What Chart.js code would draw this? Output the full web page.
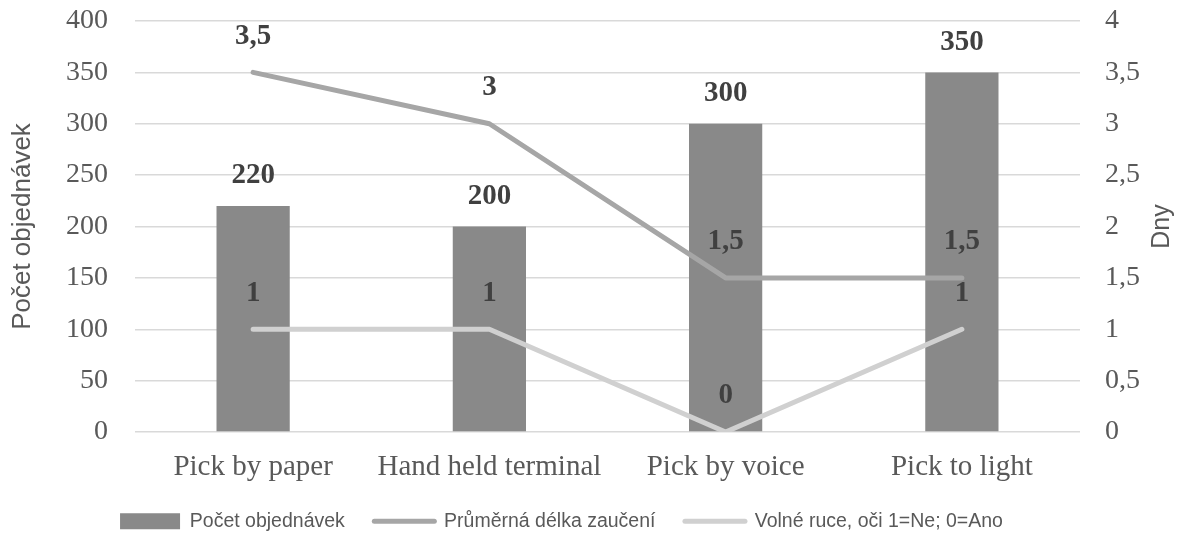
<!DOCTYPE html>
<html>
<head>
<meta charset="utf-8">
<script src="https://cdn.jsdelivr.net/npm/chart.js@4/dist/chart.umd.min.js"></script>
<style>
  html, body { margin: 0; padding: 0; background: #ffffff; }
  #wrap { width: 1189px; height: 541px; }
</style>
</head>
<body>
<div id="wrap"><canvas id="c" width="1189" height="541"></canvas></div>
<script>
// Picking methods compared
const categories = ['Pick by paper', 'Hand held terminal', 'Pick by voice', 'Pick to light'];
// Number of orders (left axis)
const orderCounts = [220, 200, 300, 350];
// Average training length in days (right axis)
const trainingDays = [3.5, 3, 1.5, 1.5];
// Hands/eyes free flag: 1 = No, 0 = Yes (right axis)
const handsFree = [1, 1, 0, 1];

const seriesNames = ['Počet objednávek', 'Průměrná délka zaučení', 'Volné ruce, oči 1=Ne; 0=Ano'];
const leftTitle = 'Počet objednávek';
const rightTitle = 'Dny';

const SERIF = "'Liberation Serif', 'Times New Roman', serif";
const SANS = "'Liberation Sans', Arial, sans-serif";
const TEXT = '#595959';
const LABEL = '#404040';

const fmt = v => String(v).replace('.', ',');

// Value labels above each bar and line vertex
const valueLabels = {
  id: 'valueLabels',
  afterDatasetsDraw(chart) {
    const ctx = chart.ctx;
    ctx.save();
    ctx.textAlign = 'center';
    ctx.textBaseline = 'middle';
    ctx.fillStyle = LABEL;
    ctx.font = 'bold 29px ' + SERIF;
    chart.data.datasets.forEach((ds, i) => {
      const meta = chart.getDatasetMeta(i);
      if (meta.hidden) return;
      const lift = ds.type === 'bar' ? 30 : 36;
      meta.data.forEach((el, j) => {
        ctx.fillText(fmt(ds.data[j]), el.x, el.y - lift);
      });
    });
    ctx.restore();
  }
};

// Right axis title, reading bottom-to-top like the left one
const rightAxisTitle = {
  id: 'rightAxisTitle',
  afterDraw(chart) {
    const s = chart.scales.y1;
    const ctx = chart.ctx;
    ctx.save();
    ctx.translate(s.right - 27, (chart.chartArea.top + chart.chartArea.bottom) / 2);
    ctx.rotate(-Math.PI / 2);
    ctx.textAlign = 'center';
    ctx.textBaseline = 'middle';
    ctx.fillStyle = TEXT;
    ctx.font = '25px ' + SANS;
    ctx.fillText(rightTitle, 0, 0);
    ctx.restore();
  }
};

// Keep the legend row a little left of the canvas centre
const legendOffset = {
  id: 'legendOffset',
  afterLayout(chart) {
    if (chart.legend) chart.legend.right -= 66;
  }
};

// Vertical axes: fixed widths, no extra space reserved above/below the plot
const fixVertical = width => s => {
  s.width = width;
  s.paddingTop = 0;
  s.paddingBottom = 0;
};

new Chart(document.getElementById('c'), {
  data: {
    labels: categories,
    datasets: [
      {
        type: 'bar',
        label: seriesNames[0],
        data: orderCounts,
        backgroundColor: '#898989',
        yAxisID: 'y',
        categoryPercentage: 1,
        barPercentage: 0.31,
        order: 2
      },
      {
        type: 'line',
        label: seriesNames[1],
        data: trainingDays,
        borderColor: '#a6a6a6',
        backgroundColor: '#a6a6a6',
        borderWidth: 5,
        pointRadius: 0,
        borderCapStyle: 'round',
        borderJoinStyle: 'round',
        yAxisID: 'y1',
        order: 1
      },
      {
        type: 'line',
        label: seriesNames[2],
        data: handsFree,
        borderColor: '#d0d0d0',
        backgroundColor: '#d0d0d0',
        borderWidth: 5,
        pointRadius: 0,
        borderCapStyle: 'round',
        borderJoinStyle: 'round',
        yAxisID: 'y1',
        order: 0
      }
    ]
  },
  options: {
    responsive: false,
    animation: false,
    devicePixelRatio: 1,
    layout: { padding: { top: 21, left: 0, right: 0, bottom: 0 } },
    plugins: {
      tooltip: { enabled: false },
      legend: {
        position: 'bottom',
        labels: {
          color: TEXT,
          font: { family: SANS, size: 19.5 },
          usePointStyle: true,
          pointStyleWidth: 60,
          boxHeight: 16,
          padding: 29.5,
          sort: (a, b) => a.datasetIndex - b.datasetIndex,
          generateLabels(chart) {
            return chart.data.datasets.map((ds, i) => ({
              text: ds.label,
              datasetIndex: i,
              fillStyle: ds.type === 'bar' ? ds.backgroundColor : 'rgba(0,0,0,0)',
              strokeStyle: ds.type === 'bar' ? ds.backgroundColor : ds.borderColor,
              lineWidth: ds.type === 'bar' ? 0 : 5,
              lineCap: 'round',
              pointStyle: ds.type === 'bar' ? 'rect' : 'line',
              fontColor: TEXT,
              hidden: false
            }));
          }
        }
      }
    },
    scales: {
      x: {
        grid: { display: false, drawTicks: false },
        border: { display: false },
        ticks: { color: TEXT, font: { family: SERIF, size: 29 }, padding: 18, maxRotation: 0 },
        afterFit(s) { s.height = 50; }
      },
      y: {
        position: 'left',
        min: 0,
        max: 400,
        ticks: { stepSize: 50, color: TEXT, font: { family: SERIF, size: 28 }, padding: 27 },
        grid: { color: '#d9d9d9', lineWidth: 1.5, drawTicks: false },
        border: { display: false },
        title: { display: true, text: leftTitle, color: TEXT, font: { family: SANS, size: 26 }, padding: { top: 7, bottom: 0 } },
        afterFit: fixVertical(135)
      },
      y1: {
        position: 'right',
        min: 0,
        max: 4,
        ticks: { stepSize: 0.5, color: TEXT, font: { family: SERIF, size: 28 }, padding: 25, callback: v => fmt(v) },
        grid: { display: false, drawTicks: false },
        border: { display: false },
        afterFit: fixVertical(109)
      }
    }
  },
  plugins: [valueLabels, rightAxisTitle, legendOffset]
});
</script>
</body>
</html>
